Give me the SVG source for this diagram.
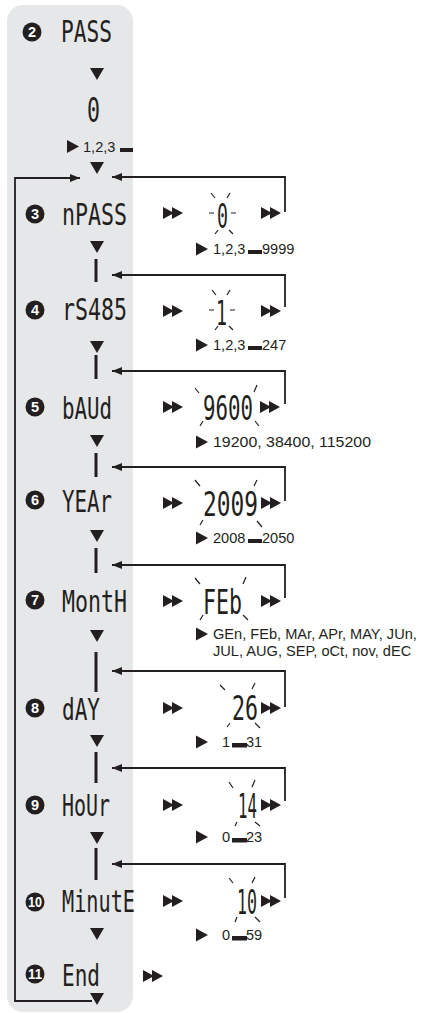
<svg xmlns="http://www.w3.org/2000/svg" width="421" height="1013" viewBox="0 0 421 1013">
<style>
.seg{font-family:"DejaVu Sans Mono","Liberation Mono",monospace;font-size:30px;fill:#231f20}
.val{font-family:"DejaVu Sans Mono","Liberation Mono",monospace;font-size:34px;fill:#231f20}
.sub{font-family:"Liberation Sans",Arial,sans-serif;font-size:14.6px;fill:#231f20}
.num{font-family:"Liberation Sans",Arial,sans-serif;font-size:14.5px;font-weight:bold;fill:#ffffff;text-anchor:middle}
.ln{fill:none;stroke:#231f20;stroke-width:1.8}
.ray{fill:none;stroke:#231f20;stroke-width:1.2}
.blk{fill:#231f20}
</style>
<defs>
<marker id="ah" markerUnits="userSpaceOnUse" markerWidth="10" markerHeight="8" refX="10" refY="4" orient="auto">
<path d="M0,0 L10,4 L0,8 z" fill="#231f20"/>
</marker>
<path id="dbl" d="M0,-6 L11,0 L0,6 z M9,-6 L20,0 L9,6 z" fill="#231f20"/>
<path id="dn" d="M-7,0 L7,0 L0,12 z" fill="#231f20"/>
<path id="tri" d="M0,-6.5 L12,0 L0,6.5 z" fill="#231f20"/>
</defs>

<rect x="7" y="5" width="126" height="1007" rx="16" ry="16" fill="#e6e7e8"/>

<g id="connectors">
<path class="ln" d="M92,1001 H15 V178 H80" marker-end="url(#ah)"/>
<path class="ln" d="M285,212 V177 H112" marker-end="url(#ah)"/>
<path class="ln" d="M285,307 V275 H112" marker-end="url(#ah)"/>
<path class="ln" d="M285,404 V371 H112" marker-end="url(#ah)"/>
<path class="ln" d="M285,501 V467 H112" marker-end="url(#ah)"/>
<path class="ln" d="M285,598 V565 H112" marker-end="url(#ah)"/>
<path class="ln" d="M285,707 V671 H112" marker-end="url(#ah)"/>
<path class="ln" d="M285,801 V768 H112" marker-end="url(#ah)"/>
<path class="ln" d="M285,898 V864 H112" marker-end="url(#ah)"/>
<use href="#dn" x="97" y="68"/>
<use href="#dn" x="97" y="162"/>
<use href="#dn" x="97" y="241"/>
<use href="#dn" x="97" y="341"/>
<use href="#dn" x="97" y="435"/>
<use href="#dn" x="97" y="530"/>
<use href="#dn" x="97" y="630"/>
<use href="#dn" x="97" y="735"/>
<use href="#dn" x="97" y="832"/>
<use href="#dn" x="97" y="928"/>
<use href="#dn" x="97" y="993"/>
<rect class="blk" x="94.5" y="259" width="3" height="23"/>
<rect class="blk" x="94.5" y="355" width="3" height="24"/>
<rect class="blk" x="94.5" y="453" width="3" height="24"/>
<rect class="blk" x="94.5" y="548" width="3" height="25"/>
<rect class="blk" x="94.5" y="652" width="3" height="40"/>
<rect class="blk" x="94.5" y="752" width="3" height="31"/>
<rect class="blk" x="94.5" y="848" width="3" height="32"/>
</g>

<g id="n2">
<circle cx="32" cy="32" r="9.5" fill="#231f20"/>
<text class="num" x="32" y="37">2</text>
<text class="seg" x="61" y="42" textLength="51" lengthAdjust="spacingAndGlyphs">PASS</text>
<text class="val" x="87" y="122" textLength="13" lengthAdjust="spacingAndGlyphs">0</text>
<use href="#tri" x="67" y="146.5"/>
<text class="sub" x="83" y="152">1,2,3</text>
<rect class="blk" x="120" y="148" width="13" height="4"/>
</g>

<g id="n3">
<circle cx="35" cy="214" r="9.5" fill="#231f20"/>
<text class="num" x="35" y="219">3</text>
<text class="seg" x="62" y="225" textLength="65" lengthAdjust="spacingAndGlyphs">nPASS</text>
<use href="#dbl" x="163" y="213"/>
<text class="val" x="217" y="228" textLength="11" lengthAdjust="spacingAndGlyphs">0</text>
<path class="ray" d="M211,193 L215,198 M230,193 L227,198 M209,213 H214 M231,213 H236 M218,230 L215,234 M229,230 L233,234"/>
<use href="#dbl" x="261" y="213"/>
<use href="#tri" x="196" y="249"/>
<text class="sub" x="213" y="254">1,2,3</text>
<rect class="blk" x="248" y="250" width="14" height="4"/>
<text class="sub" x="262" y="254">9999</text>
</g>

<g id="n4">
<circle cx="35" cy="310" r="9.5" fill="#231f20"/>
<text class="num" x="35" y="315">4</text>
<text class="seg" x="62" y="320" textLength="65" lengthAdjust="spacingAndGlyphs">rS485</text>
<use href="#dbl" x="163" y="311"/>
<text class="val" x="216" y="325" textLength="11" lengthAdjust="spacingAndGlyphs">1</text>
<path class="ray" d="M212,290 L216,295 M230,290 L227,295 M209,310 H214 M230,310 H235 M218,326 L215,330 M229,326 L233,330"/>
<use href="#dbl" x="261" y="311"/>
<use href="#tri" x="196" y="345"/>
<text class="sub" x="213" y="350">1,2,3</text>
<rect class="blk" x="248" y="346" width="14" height="4"/>
<text class="sub" x="262" y="350">247</text>
</g>

<g id="n5">
<circle cx="35" cy="407" r="9.5" fill="#231f20"/>
<text class="num" x="35" y="412">5</text>
<text class="seg" x="62" y="419" textLength="50" lengthAdjust="spacingAndGlyphs">bAUd</text>
<use href="#dbl" x="163" y="407"/>
<text class="val" x="203" y="420" textLength="50" lengthAdjust="spacingAndGlyphs">9600</text>
<path class="ray" d="M195,388 L199,393 M257,385 L254,392 M203,421 L200,426 M255,421 L259,426"/>
<use href="#dbl" x="260" y="407"/>
<use href="#tri" x="196" y="442"/>
<text class="sub" x="213" y="447" textLength="158" lengthAdjust="spacingAndGlyphs">19200, 38400, 115200</text>
</g>

<g id="n6">
<circle cx="35" cy="500" r="9.5" fill="#231f20"/>
<text class="num" x="35" y="505">6</text>
<text class="seg" x="62" y="512" textLength="50" lengthAdjust="spacingAndGlyphs">YEAr</text>
<use href="#dbl" x="163" y="503"/>
<text class="val" x="203" y="516" textLength="55" lengthAdjust="spacingAndGlyphs">2009</text>
<path class="ray" d="M195,480 L200,486 M257,480 L254,486 M203,520 L200,525 M257,521 L262,527"/>
<use href="#dbl" x="261" y="503"/>
<use href="#tri" x="196" y="538"/>
<text class="sub" x="213" y="543">2008</text>
<rect class="blk" x="248" y="539" width="14" height="4"/>
<text class="sub" x="262" y="543">2050</text>
</g>

<g id="n7">
<circle cx="35" cy="600" r="9.5" fill="#231f20"/>
<text class="num" x="35" y="605">7</text>
<text class="seg" x="62" y="612" textLength="65" lengthAdjust="spacingAndGlyphs">MontH</text>
<use href="#dbl" x="163" y="601"/>
<text class="val" x="203" y="614" textLength="39" lengthAdjust="spacingAndGlyphs">FEb</text>
<path class="ray" d="M195,578 L200,584 M246,577 L243,584 M203,615 L200,620 M243,615 L248,620"/>
<use href="#dbl" x="261" y="601"/>
<use href="#tri" x="196" y="634"/>
<text class="sub" x="213" y="639">GEn, FEb, MAr, APr, MAY, JUn,</text>
<text class="sub" x="213" y="656">JUL, AUG, SEP, oCt, nov, dEC</text>
</g>

<g id="n8">
<circle cx="35" cy="708" r="9.5" fill="#231f20"/>
<text class="num" x="35" y="713">8</text>
<text class="seg" x="62" y="720" textLength="38" lengthAdjust="spacingAndGlyphs">dAY</text>
<use href="#dbl" x="163" y="708"/>
<text class="val" x="232" y="720" textLength="26" lengthAdjust="spacingAndGlyphs">26</text>
<path class="ray" d="M220,685 L225,690 M255,683 L252,689 M230,723 L227,727 M255,723 L260,728"/>
<use href="#dbl" x="261" y="708"/>
<use href="#tri" x="196" y="742"/>
<text class="sub" x="222" y="747">1</text>
<rect class="blk" x="232" y="743" width="15" height="4.5"/>
<text class="sub" x="246" y="747">31</text>
</g>

<g id="n9">
<circle cx="35" cy="805" r="9.5" fill="#231f20"/>
<text class="num" x="35" y="810">9</text>
<text class="seg" x="62" y="816" textLength="48" lengthAdjust="spacingAndGlyphs">HoUr</text>
<use href="#dbl" x="163" y="805"/>
<text class="val" x="238" y="818" textLength="19" lengthAdjust="spacingAndGlyphs">14</text>
<path class="ray" d="M229,782 L233,788 M255,780 L252,787 M237,822 L235,826 M255,822 L260,826"/>
<use href="#dbl" x="261" y="805"/>
<use href="#tri" x="196" y="837"/>
<text class="sub" x="222" y="842">0</text>
<rect class="blk" x="232" y="838" width="15" height="4.5"/>
<text class="sub" x="246" y="842">23</text>
</g>

<g id="n10">
<circle cx="35" cy="902" r="9.5" fill="#231f20"/>
<text class="num" x="35" y="906.5" font-size="12" textLength="14" lengthAdjust="spacingAndGlyphs">10</text>
<text class="seg" x="62" y="912" textLength="73" lengthAdjust="spacingAndGlyphs">MinutE</text>
<use href="#dbl" x="163" y="901"/>
<text class="val" x="237" y="914" textLength="20" lengthAdjust="spacingAndGlyphs">10</text>
<path class="ray" d="M229,878 L233,883 M255,877 L252,883 M237,917 L235,922 M255,917 L260,922"/>
<use href="#dbl" x="261" y="901"/>
<use href="#tri" x="196" y="935"/>
<text class="sub" x="222" y="940">0</text>
<rect class="blk" x="232" y="936" width="15" height="4.5"/>
<text class="sub" x="246" y="940">59</text>
</g>

<g id="n11">
<circle cx="35" cy="974" r="9.5" fill="#231f20"/>
<text class="num" x="35" y="978.5" font-size="12" textLength="14" lengthAdjust="spacingAndGlyphs">11</text>
<text class="seg" x="62" y="986" textLength="38" lengthAdjust="spacingAndGlyphs">End</text>
<use href="#dbl" x="143" y="976"/>
</g>
</svg>
